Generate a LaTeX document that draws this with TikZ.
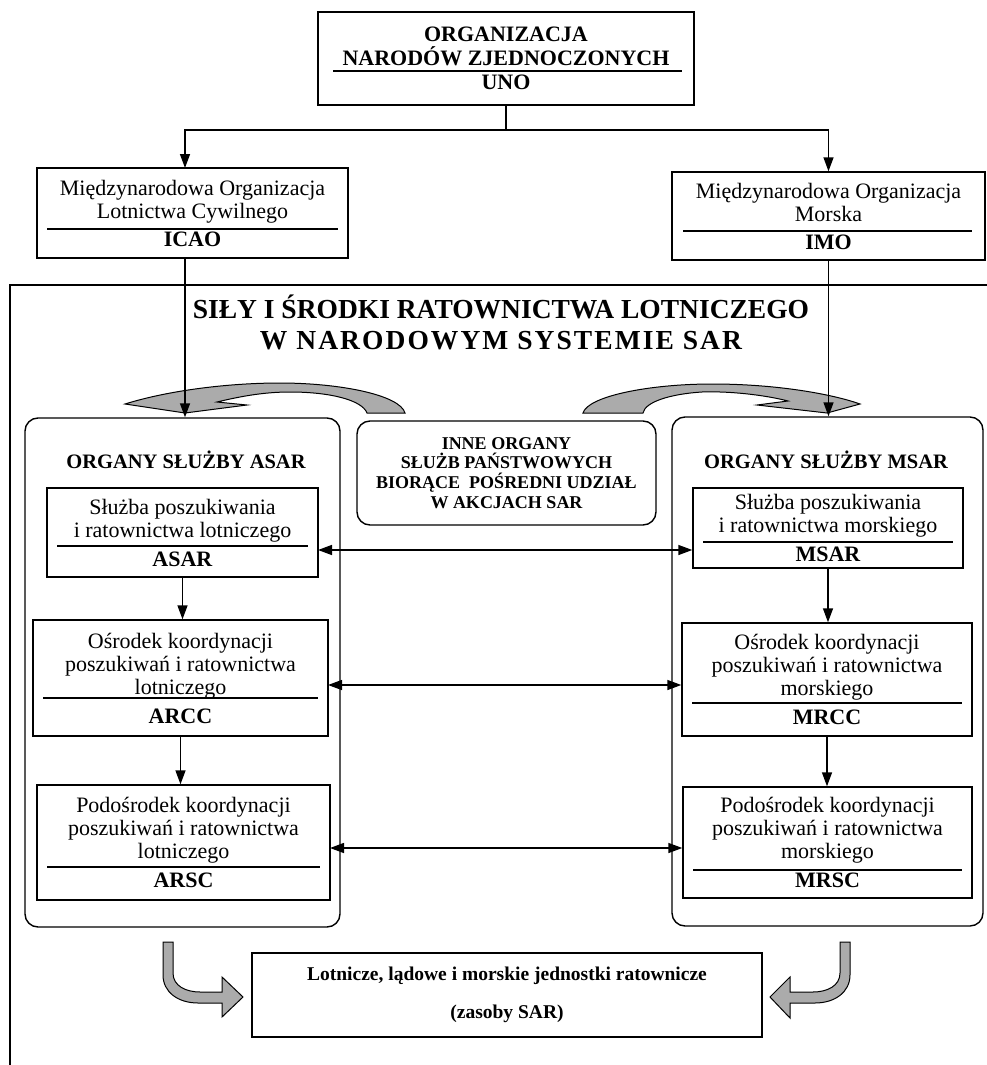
\documentclass[tikz,border=0pt]{standalone}
\usepackage{fontspec}
\setmainfont{Liberation Serif}
\usetikzlibrary{arrows.meta}
\begin{document}
\begin{tikzpicture}[x=1pt,y=-1pt,line width=1.4pt,
  box/.style={draw,rectangle,inner sep=0pt,align=center,font=\fontsize{22}{23}\selectfont},
  panel/.style={draw,rectangle,rounded corners=13pt,inner sep=0pt},
  uline/.style={line width=1.2pt},
  arr/.style={-{Triangle[length=14pt,width=10pt]}},
  darr/.style={{Triangle[length=14pt,width=10pt]}-{Triangle[length=14pt,width=10pt]}},
  gshape/.style={fill=black!33,draw=black,line width=1pt},
  head/.style={font=\fontsize{20.5}{22}\selectfont\bfseries},
  ttl/.style={font=\fontsize{27.5}{31}\selectfont\bfseries,align=center}]
\useasboundingbox (0,0) rectangle (987,1065);
% outer frame
\draw (987,285) -- (10,285) -- (10,1065);

% top level
\node[box,minimum width=376pt,minimum height=93pt,font=\fontsize{22}{24}\selectfont\bfseries] (uno) at (506,58.5)
  {ORGANIZACJA\\NARODÓW ZJEDNOCZONYCH\\UNO};
\draw[uline] (333,71) -- (682,71);

\node[box,minimum width=311pt,minimum height=90pt] (icao) at (192.5,213)
  {Międzynarodowa Organizacja\\Lotnictwa Cywilnego\\[5pt]\textbf{ICAO}};
\draw[uline] (47,229) -- (338,229);

\node[box,minimum width=313pt,minimum height=88pt] (imo) at (828.5,216)
  {Międzynarodowa Organizacja\\Morska\\[5pt]\textbf{IMO}};
\draw[uline] (683,231) -- (972,231);

\coordinate (split) at (506,130);
\coordinate (icaoin) at (185,168);
\draw (uno.south) -- (split);
\draw[arr] (split) -| (icaoin);
\draw[arr] (split) -| (imo.north);

% title
\node[ttl] (title) at (501,322) {SIŁY I ŚRODKI RATOWNICTWA LOTNICZEGO\\{\addfontfeature{LetterSpace=7.5}W NARODOWYM SYSTEMIE SAR}};

% panels
\node[panel,minimum width=315pt,minimum height=509pt] (lpanel) at (182.5,672.5) {};
\node[panel,minimum width=311pt,minimum height=509pt] (rpanel) at (827.5,671.5) {};
\node[panel,minimum width=299pt,minimum height=104pt,align=center,font=\fontsize{18}{19.7}\selectfont\bfseries] (inne) at (506.5,473)
  {INNE ORGANY\\SŁUŻB PAŃSTWOWYCH\\BIORĄCE\ \ POŚREDNI UDZIAŁ\\W AKCJACH SAR};

% gray curved arrows (top)
\path[gshape] (125,404) .. controls (170,390) and (230,383) .. (280,383)
  .. controls (340,383) and (400,395) .. (405,413) -- (367,413)
  .. controls (362,400) and (330,392) .. (290,392)
  .. controls (262,392) and (238,397) .. (217,402) -- (247,405) -- (185,413) -- cycle;
\path[gshape] (583,413) .. controls (588,396) and (650,384) .. (712,384)
  .. controls (780,384) and (835,395) .. (860,404) -- (827,413) -- (757,405) -- (788,401)
  .. controls (765,395) and (730,391) .. (702,392)
  .. controls (670,394) and (645,402) .. (643,413) -- cycle;

\coordinate (icaoout) at (185,258);
\draw[arr] (icaoout) -- (icaoout |- lpanel.north);
\draw[arr] (imo.south) -- (imo.south |- rpanel.north);

% panel headers
\node[head] (lhead) at (186,460) {ORGANY SŁUŻBY ASAR};
\node[head] (rhead) at (826,460) {ORGANY SŁUŻBY MSAR};

% left boxes
\node[box,minimum width=271pt,minimum height=89pt] (asar) at (182.5,532.5)
  {Służba poszukiwania\\i ratownictwa lotniczego\\[6pt]\textbf{ASAR}};
\draw[uline] (57,546) -- (308,546);
\node[box,minimum width=295pt,minimum height=116pt] (arcc) at (180.5,678)
  {Ośrodek koordynacji\\poszukiwań i ratownictwa\\lotniczego\\[6pt]\textbf{ARCC}};
\draw[uline] (43,698) -- (318,698);
\node[box,minimum width=293pt,minimum height=115pt] (arsc) at (183.5,842.5)
  {Podośrodek koordynacji\\poszukiwań i ratownictwa\\lotniczego\\[6pt]\textbf{ARSC}};
\draw[uline] (47,867) -- (320,867);

% right boxes
\node[box,minimum width=270pt,minimum height=80pt] (msar) at (828,528)
  {Służba poszukiwania\\i ratownictwa morskiego\\[6pt]\textbf{MSAR}};
\draw[uline] (703,542) -- (953,542);
\node[box,minimum width=290pt,minimum height=113pt] (mrcc) at (827,679.5)
  {Ośrodek koordynacji\\poszukiwań i ratownictwa\\morskiego\\[6pt]\textbf{MRCC}};
\draw[uline] (692,703) -- (962,703);
\node[box,minimum width=289pt,minimum height=111pt] (mrsc) at (827.5,842.5)
  {Podośrodek koordynacji\\poszukiwań i ratownictwa\\morskiego\\[6pt]\textbf{MRSC}};
\draw[uline] (693,870) -- (962,870);

% vertical arrows
\draw[arr] (asar.south) -- (asar.south |- arcc.north);
\draw[arr] (arcc.south) -- (arcc.south |- arsc.north);
\draw[arr] (msar.south) -- (msar.south |- mrcc.north);
\draw[arr] (mrcc.south) -- (mrcc.south |- mrsc.north);

% horizontal double arrows
\coordinate (h1) at (318,550);
\coordinate (h2) at (328,685);
\coordinate (h3) at (330,848);
\draw[darr] (h1) -- (h1 -| msar.west);
\draw[darr] (h2) -- (h2 -| mrcc.west);
\draw[darr] (h3) -- (h3 -| mrsc.west);

% bottom box
\node[box,minimum width=510pt,minimum height=84pt,font=\fontsize{19.5}{21}\selectfont\bfseries] (res) at (507,995)
  {Lotnicze, lądowe i morskie jednostki ratownicze\\[17pt](zasoby SAR)};

% bottom gray arrows
\path[gshape] (163,942) -- (163,975) .. controls (163,992) and (178,1003) .. (198,1003) -- (222,1003)
  -- (222,1017) -- (243,997) -- (222,977) -- (222,992) -- (200,992)
  .. controls (186,992) and (173,986) .. (173,973) -- (173,942) -- cycle;
\path[gshape] (850,942) -- (850,975) .. controls (850,992) and (835,1003) .. (815,1003) -- (790,1003)
  -- (790,1018) -- (770,997) -- (790,977) -- (790,992) -- (813,992)
  .. controls (827,992) and (840,986) .. (840,973) -- (840,942) -- cycle;
\end{tikzpicture}
\end{document}
